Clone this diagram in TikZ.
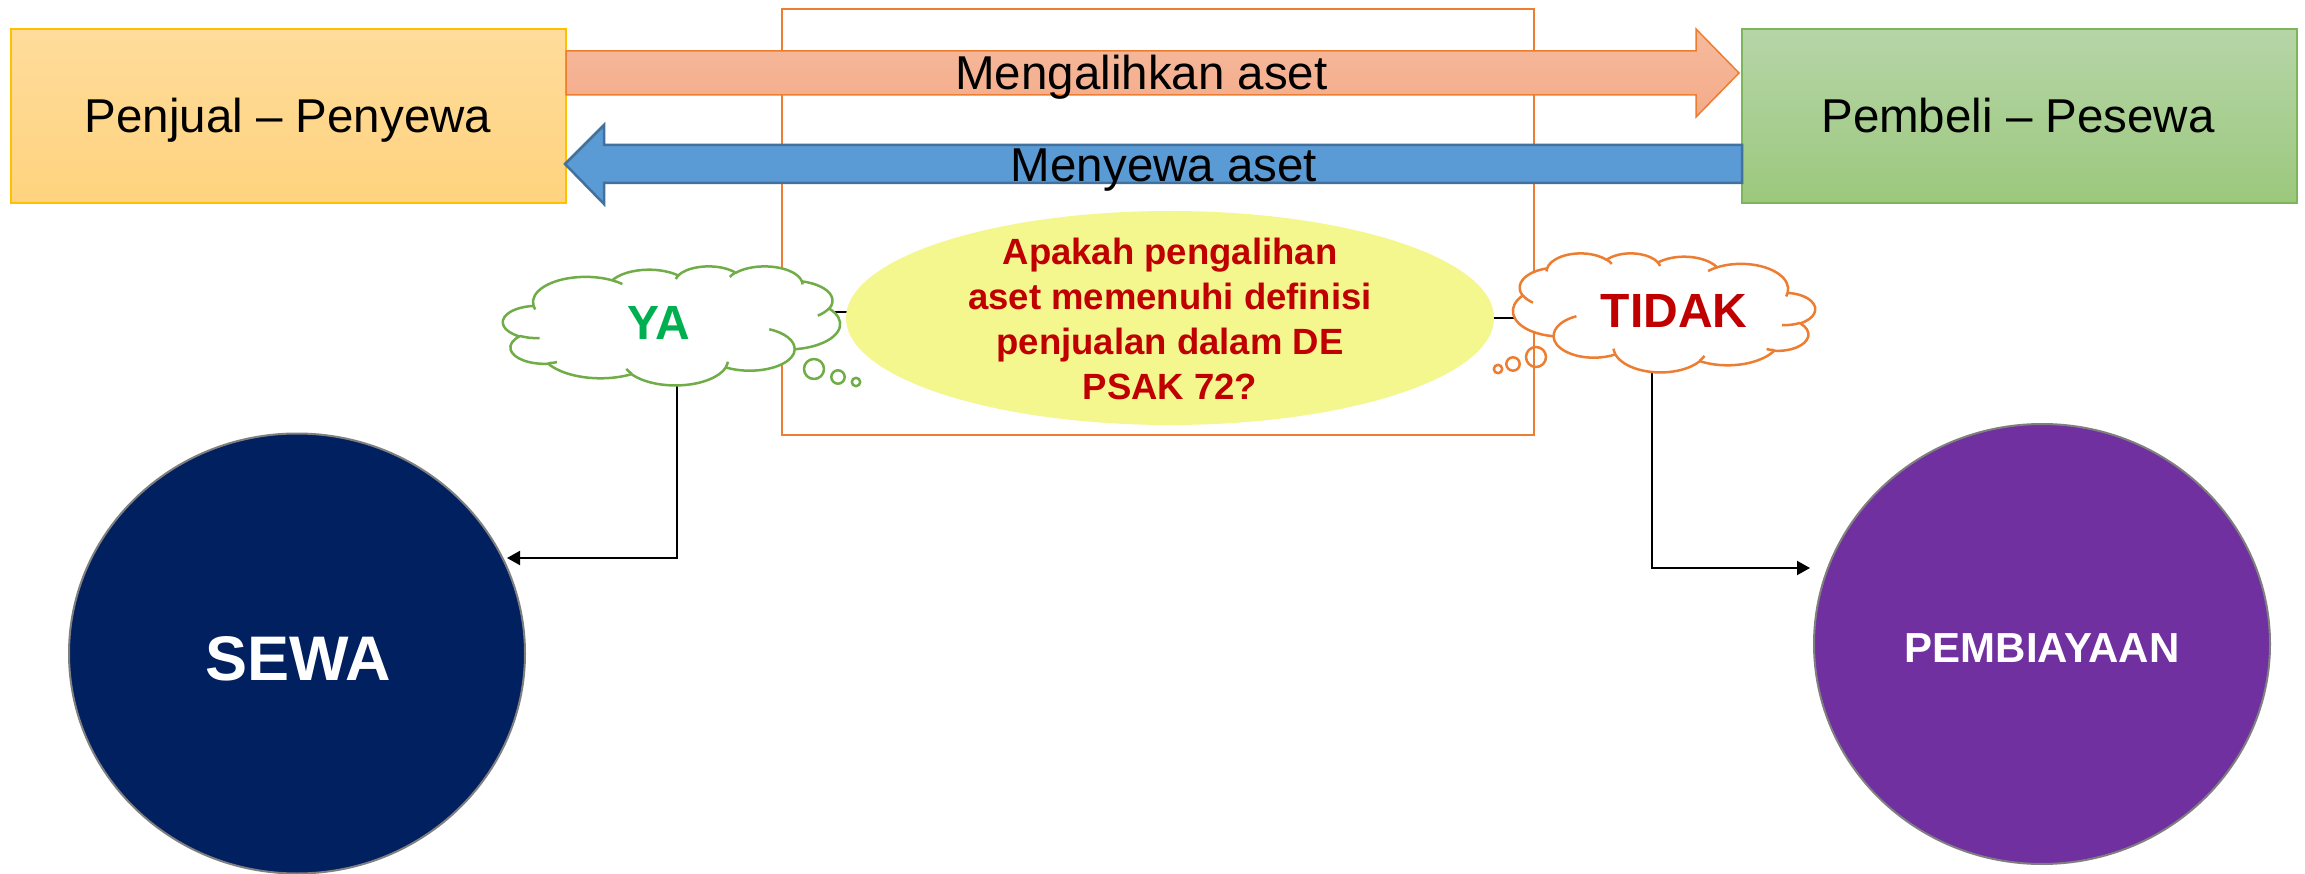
\documentclass[tikz,border=0pt]{standalone}
\usepackage{fontspec}
\setmainfont{Liberation Sans}
\usetikzlibrary{shapes.geometric,arrows.meta}

\definecolor{frameorange}{HTML}{ED7D31}
\definecolor{sellertop}{HTML}{FFDC9C}
\definecolor{sellerbot}{HTML}{FFD37E}
\definecolor{sellerline}{HTML}{FFC000}
\definecolor{buyertop}{HTML}{B6D5A8}
\definecolor{buyerbot}{HTML}{9CC87D}
\definecolor{buyerline}{HTML}{7CB55A}
\definecolor{transfertop}{HTML}{F6BA9E}
\definecolor{transferbot}{HTML}{F4AB89}
\definecolor{leasefill}{HTML}{5B9BD5}
\definecolor{leaseline}{HTML}{41719C}
\definecolor{qfill}{HTML}{F3F78E}
\definecolor{qred}{HTML}{C00000}
\definecolor{yesgreen}{HTML}{00B050}
\definecolor{yesline}{HTML}{70AD47}
\definecolor{leasenavy}{HTML}{002060}
\definecolor{financepurple}{HTML}{7030A0}
\definecolor{rimgray}{HTML}{7F7F7F}

% parametric angles of an arc given by its visual start angle and sweep
\newcommand\cloudangles{%
  \pgfmathsetmacro\cldA{atan2(\crx*sin(\cst),\cry*cos(\cst))}%
  \pgfmathsetmacro\cldB{atan2(\crx*sin(\cst+\csw),\cry*cos(\cst+\csw))}%
  \pgfmathsetmacro\cldD{(\cldB)-(\cldA)+360*and(\csw>0,\cldB<\cldA)-360*and(\csw<0,\cldB>\cldA)}%
}
% cloud outline in a 432 x 432 box
\newcommand\cloudoutline{%
  (39,143.7)
  \foreach \crx/\cry/\cst/\csw in {%
    67.53/91.90/-190.4875/123.7805,
    53.33/72.67/-144.1024/89.9452,
    43.65/59.45/-145.8079/99.7230,
    48.57/65.95/-130.9861/117.2417,
    53.33/72.73/-78.7089/109.0269,
    67.75/92.20/-46.2673/130.2690,
    57.85/78.67/0.6250/114.0333,
    67.52/92.15/22.4516/115.1726,
    77.20/105.43/66.2426/75.7110,
    43.60/59.18/-274.9421/146.7356,
    43.45/59.45/-246.8285/152.5189}{%
    \pgfextra{\cloudangles}
    arc[start angle=\cldA, delta angle=\cldD, x radius=\crx, y radius=\cry]
  } -- cycle}
% inner creases of the cloud
\newcommand\cloudcreases{%
  \foreach \cpx/\cpy/\crx/\cry/\cst/\csw in {%
    46.93/261.77/43.45/59.45/86.7420/26.4295,
    69.28/348.99/43.60/59.18/73.6105/11.4475,
    164.78/390.90/67.52/92.15/137.6242/14.0811,
    288.27/347.51/67.52/92.15/6.4533/15.9984,
    341.29/229.54/57.85/78.67/-70.2924/70.9174,
    417.98/153.54/53.33/72.73/30.3180/27.7515,
    383.24/54.26/48.57/65.95/-13.7443/14.8589,
    290.78/39.52/48.57/65.95/-149.1815/18.1954,
    221.41/47.20/43.65/59.45/-163.4943/17.6864,
    140.00/51.92/67.53/91.90/-66.7070/12.3194,
    41.27/157.89/67.53/91.90/157.6544/11.8582}{%
    (\cpx,\cpy) \pgfextra{\cloudangles}
    arc[start angle=\cldA, delta angle=\cldD, x radius=\crx, y radius=\cry]
  }}

\begin{document}
\begin{tikzpicture}[x=1pt, y=-1pt,
  bigtext/.style={font=\fontsize{47.5}{57}\selectfont, inner sep=0pt, anchor=base},
  answer/.style={font=\bfseries\fontsize{48}{58}\selectfont, inner sep=0pt, anchor=base},
  party/.style={rectangle, minimum width=555pt, minimum height=174pt, inner sep=0pt, line width=1.5pt},
  outcome/.style={ellipse, draw=rimgray, line width=2pt, minimum width=456pt, minimum height=440pt, inner sep=0pt},
  outcometext/.style={font=\bfseries\fontsize{#1}{#1}\selectfont, text=white, inner sep=0pt, anchor=base},
  link/.style={draw=black, line width=2pt, -{Triangle[length=13pt,width=14pt]}},
  tie/.style={draw=black, line width=2.2pt},
  yescloud/.style={draw=yesline, line width=2.5pt, line join=round},
  nocloud/.style={draw=frameorange, line width=2.5pt, line join=round}]

\useasboundingbox (0,0) rectangle (2305,874);
\fill[white] (0,0) rectangle (2305,874);

% frame round the question
\node[draw=frameorange, line width=2.5pt, minimum width=752pt, minimum height=426pt, inner sep=0pt] (frame) at (1158,222) {};

% the two parties
\node[party, top color=sellertop, bottom color=sellerbot, draw=sellerline] (seller) at (288.5,116) {};
\node[bigtext] (sellerlabel) at (288,133) {Penjual – Penyewa};
\node[party, top color=buyertop, bottom color=buyerbot, draw=buyerline] (buyer) at (2019.5,116) {};
\node[bigtext] (buyerlabel) at (2018,133) {Pembeli – Pesewa};

% block arrows between the parties
\path[top color=transfertop, bottom color=transferbot, draw=frameorange, line width=1.5pt]
  (566,51) -- (1696,51) -- (1696,29) -- (1739,73) -- (1696,117) -- (1696,95) -- (566,95) -- cycle;
\node[bigtext] (transferlabel) at (1141.5,90) {Mengalihkan aset};
\path[fill=leasefill, draw=leaseline, line width=2.5pt]
  (565,164) -- (604,125) -- (604,145) -- (1742,145) -- (1742,183) -- (604,183) -- (604,204) -- cycle;
\node[bigtext] (leaselabel) at (1164,182) {Menyewa aset};

% question
\coordinate (yatie) at (800,312);
\coordinate (notie) at (1540,318);
\coordinate (yafoot) at (677,370);
\coordinate (nofoot) at (1652,360);
\coordinate (sewain) at (507,558);
\coordinate (pembin) at (1810,568);
\draw[tie] (yatie) -- (yatie -| 1000,0);
\draw[tie] (1300,318) -- (notie);
\node[ellipse, fill=qfill, minimum width=648pt, minimum height=214pt, inner sep=0pt] (question) at (1170,318) {};
\node[font=\bfseries\fontsize{36.5}{44.7}\selectfont, text=qred, align=center, inner sep=0pt] (qtext) at (1170,319)
  {Apakah pengalihan\\aset memenuhi definisi\\penjualan dalam DE\\PSAK 72?};

% connectors to the outcomes
\draw[link] (yafoot) |- (sewain);
\draw[link] (nofoot) |- (pembin);

% answer clouds
\begin{scope}[shift={(503,266)}, xscale=0.7801, yscale=0.27546]
  \filldraw[yescloud, fill=white] \cloudoutline;
  \draw[yescloud] \cloudcreases;
\end{scope}
\draw[yescloud] (814,369) circle[radius=10] (838,377) circle[radius=6.7] (856,382) circle[radius=4.2];
\node[answer, text=yesgreen] (ya) at (659,340) {YA};

\begin{scope}[shift={(1815,253)}, xscale=-0.6991, yscale=0.27546]
  \filldraw[nocloud, fill=white] \cloudoutline;
  \draw[nocloud] \cloudcreases;
\end{scope}
\draw[nocloud] (1536,357) circle[radius=10] (1513,364) circle[radius=6.7] (1498,369) circle[radius=4.2];
\node[answer, text=qred] (tidak) at (1674,328) {TIDAK};

% outcomes
\node[outcome, fill=leasenavy] (sewa) at (297,653.5) {};
\node[outcometext=63] (sewalabel) at (298.5,680) {SEWA};
\node[outcome, fill=financepurple] (pemb) at (2042,644) {};
\node[outcometext=42] (pemblabel) at (2042,662) {PEMBIAYAAN};
\end{tikzpicture}
\end{document}
